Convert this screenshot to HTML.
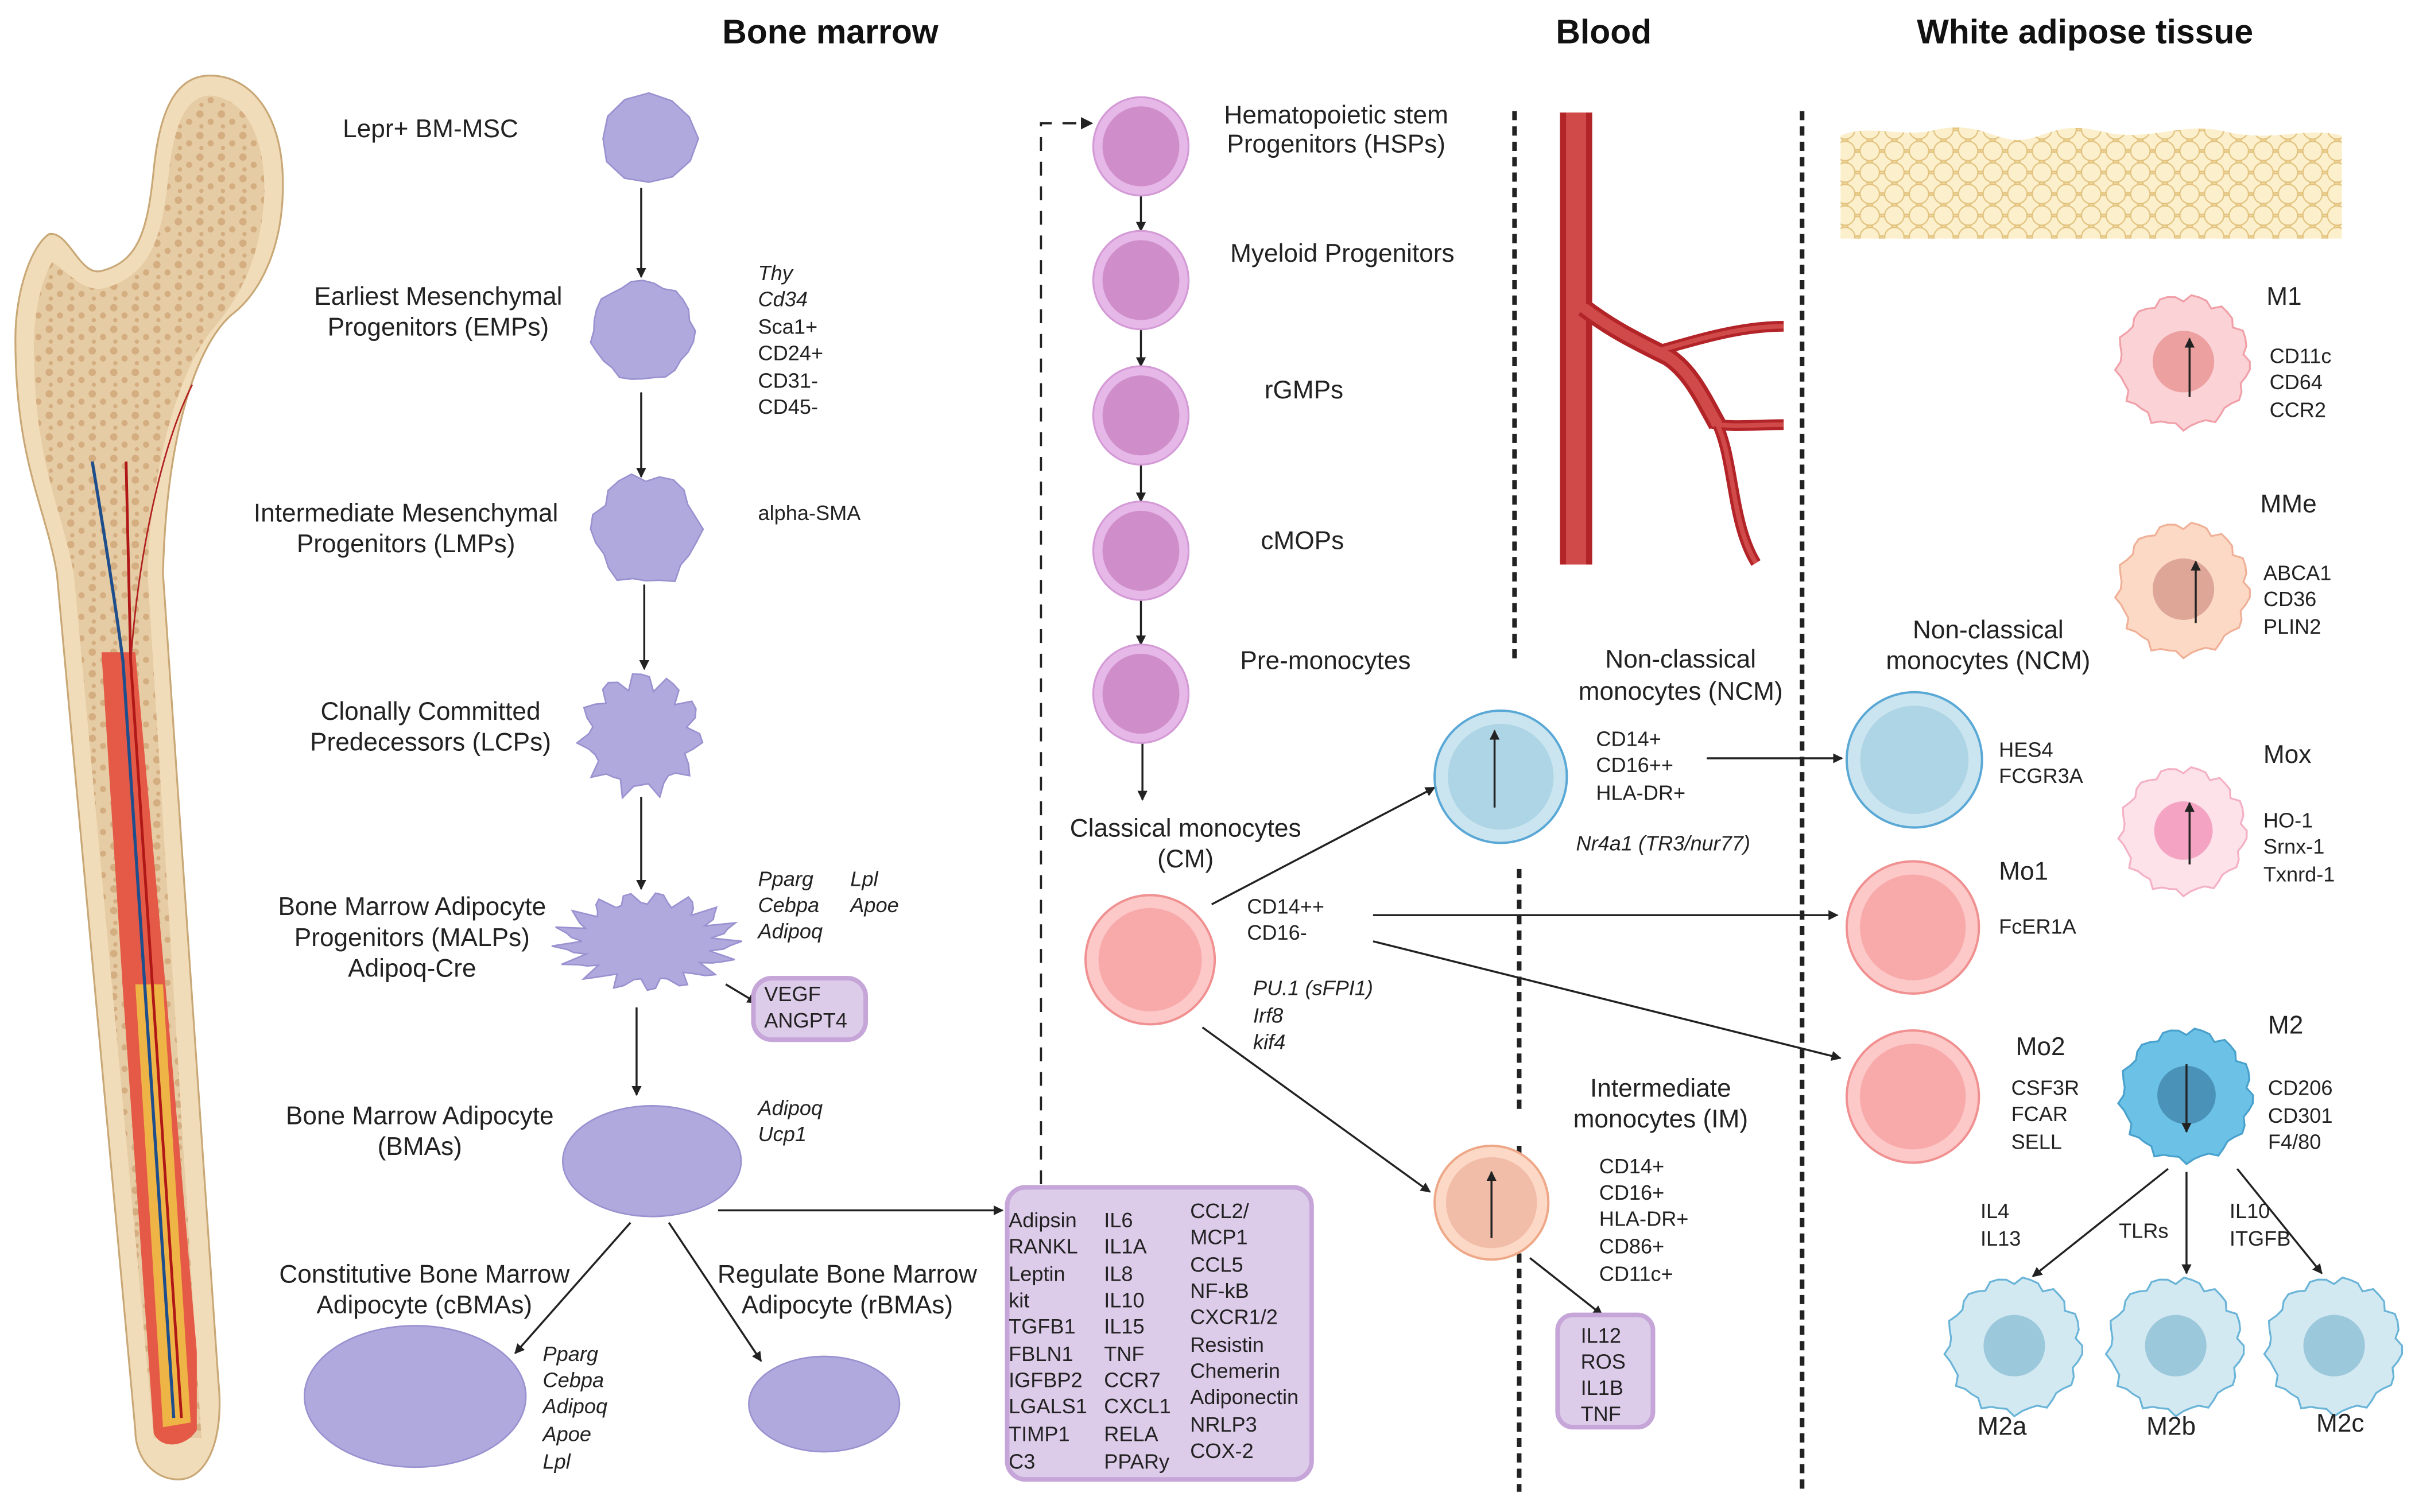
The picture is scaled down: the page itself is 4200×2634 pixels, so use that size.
<!DOCTYPE html>
<html><head><meta charset="utf-8">
<style>
html,body{margin:0;padding:0;background:#fff;}
svg{display:block;}
text{font-family:"Liberation Sans",sans-serif;fill:#222;}
.t{font-size:16.5px;}
.m{font-size:13.5px;}
.i{font-size:13.5px;font-style:italic;}
.h{font-size:22px;font-weight:bold;fill:#111;}
</style></head><body>
<svg id="s" width="4200" height="2634" viewBox="0 0 1568 983" xmlns="http://www.w3.org/2000/svg">
<defs>
<marker id="a" viewBox="0 0 10 10" refX="9" refY="5" markerWidth="5" markerHeight="5" orient="auto-start-reverse"><path d="M0,0L10,5L0,10z" fill="#222"/></marker>
<pattern id="fat" width="16" height="14" patternUnits="userSpaceOnUse"><rect width="16" height="14" fill="#efd69a"/><circle cx="8" cy="7" r="6.3" fill="#fbefcc" stroke="#e2c27e" stroke-width="0.8"/><circle cx="0" cy="0" r="6.3" fill="#fbefcc" stroke="#e2c27e" stroke-width="0.8"/><circle cx="16" cy="0" r="6.3" fill="#fbefcc" stroke="#e2c27e" stroke-width="0.8"/><circle cx="0" cy="14" r="6.3" fill="#fbefcc" stroke="#e2c27e" stroke-width="0.8"/><circle cx="16" cy="14" r="6.3" fill="#fbefcc" stroke="#e2c27e" stroke-width="0.8"/></pattern>
<pattern id="bone" width="14" height="14" patternUnits="userSpaceOnUse"><rect width="14" height="14" fill="#e6cca4"/><circle cx="4" cy="4" r="2.4" fill="#d4ad80"/><circle cx="11" cy="9" r="2" fill="#d4ad80"/><circle cx="5" cy="12" r="1.4" fill="#d4ad80"/></pattern>
</defs>

<text class="h" x="540" y="28" text-anchor="middle">Bone marrow</text>
<text class="h" x="1043" y="28" text-anchor="middle">Blood</text>
<text class="h" x="1356" y="28" text-anchor="middle">White adipose tissue</text>

<!-- Bone -->
<path d="M135,49 C160,48 184,70 184,120 C184,160 170,190 150,205 C125,228 108,290 106,373 L142,898 C146,935 135,962 116,962 C100,962 88,948 88,930 L37,373 C30,330 10,300 10,220 C10,190 20,160 32,152 C45,150 52,180 66,176 C90,170 96,150 100,110 C104,70 115,50 135,49Z" fill="#f1dcb9" stroke="#c9a877" stroke-width="1.2"/>
<path d="M137,62 C158,64 172,85 172,125 C170,165 158,190 140,212 C118,236 98,300 96,373 L131,935 L100,935 L48,373 C40,330 22,300 22,225 C22,200 28,180 34,170 C48,180 56,192 72,186 C100,176 106,150 110,110 C114,78 122,62 137,62Z" fill="url(#bone)"/>
<path d="M66,424 L88,424 L108,645 L128,879 L128,930 C120,942 104,942 100,932 L80,645Z" fill="#e45a46"/>
<path d="M88,640 L106,640 L124,925 L106,928Z" fill="#eeb445"/>
<path d="M60,300 C70,360 76,400 80,430 L113,922" stroke="#1f4e8c" stroke-width="2" fill="none"/>
<path d="M82,300 L85,430 L118,922" stroke="#b01818" stroke-width="1.8" fill="none"/>
<path d="M85,430 C90,360 105,290 125,250" stroke="#b02020" stroke-width="1" fill="none"/>

<g id="c1"></g>
<g fill="none" stroke="#222" stroke-width="1.3" marker-end="url(#a)">
<line x1="417" y1="122" x2="417" y2="180"/>
<line x1="417" y1="255" x2="417" y2="310"/>
<line x1="419" y1="380" x2="419" y2="435"/>
<line x1="417" y1="518" x2="417" y2="578"/>
<line x1="472" y1="640" x2="492" y2="652"/>
<line x1="414" y1="655" x2="414" y2="712"/>
<line x1="410" y1="795" x2="335" y2="880"/>
<line x1="435" y1="795" x2="495" y2="885"/>
<line x1="467" y1="787" x2="652" y2="787"/>
<line x1="742" y1="127" x2="742" y2="150"/>
<line x1="742" y1="214" x2="742" y2="238"/>
<line x1="742" y1="302" x2="742" y2="326"/>
<line x1="742" y1="390" x2="742" y2="419"/>
<line x1="743" y1="483" x2="743" y2="520"/>
<line x1="788" y1="588" x2="933" y2="512"/>
<line x1="1110" y1="493" x2="1198" y2="493"/>
<line x1="893" y1="595" x2="1195" y2="595"/>
<line x1="893" y1="612" x2="1197" y2="688"/>
<line x1="782" y1="668" x2="930" y2="775"/>
<line x1="995" y1="818" x2="1042" y2="855"/>
<line x1="1410" y1="760" x2="1322" y2="830"/>
<line x1="1422" y1="762" x2="1422" y2="828"/>
<line x1="1455" y1="760" x2="1510" y2="828"/>
</g>

<text class="t" x="280" y="89" text-anchor="middle">Lepr+ BM-MSC</text>
<text class="t" x="285" y="198" text-anchor="middle">Earliest Mesenchymal</text>
<text class="t" x="285" y="218" text-anchor="middle">Progenitors (EMPs)</text>
<text class="t" x="264" y="339" text-anchor="middle">Intermediate Mesenchymal</text>
<text class="t" x="264" y="359" text-anchor="middle">Progenitors (LMPs)</text>
<text class="t" x="280" y="468" text-anchor="middle">Clonally Committed</text>
<text class="t" x="280" y="488" text-anchor="middle">Predecessors (LCPs)</text>
<text class="t" x="268" y="595" text-anchor="middle">Bone Marrow Adipocyte</text>
<text class="t" x="268" y="615" text-anchor="middle">Progenitors (MALPs)</text>
<text class="t" x="268" y="635" text-anchor="middle">Adipoq-Cre</text>
<text class="t" x="273" y="731" text-anchor="middle">Bone Marrow Adipocyte</text>
<text class="t" x="273" y="751" text-anchor="middle">(BMAs)</text>
<text class="t" x="276" y="834" text-anchor="middle">Constitutive Bone Marrow</text>
<text class="t" x="276" y="854" text-anchor="middle">Adipocyte (cBMAs)</text>
<text class="t" x="551" y="834" text-anchor="middle">Regulate Bone Marrow</text>
<text class="t" x="551" y="854" text-anchor="middle">Adipocyte (rBMAs)</text>

<text class="i" x="493" y="182">Thy</text>
<text class="i" x="493" y="199">Cd34</text>
<text class="m" x="493" y="217">Sca1+</text>
<text class="m" x="493" y="234">CD24+</text>
<text class="m" x="493" y="252">CD31-</text>
<text class="m" x="493" y="269">CD45-</text>
<text class="m" x="493" y="338">alpha-SMA</text>
<text class="i" x="493" y="576">Pparg</text>
<text class="i" x="493" y="593">Cebpa</text>
<text class="i" x="493" y="610">Adipoq</text>
<text class="i" x="553" y="576">Lpl</text>
<text class="i" x="553" y="593">Apoe</text>
<text class="i" x="493" y="725">Adipoq</text>
<text class="i" x="493" y="742">Ucp1</text>
<text class="i" x="353" y="885">Pparg</text>
<text class="i" x="353" y="902">Cebpa</text>
<text class="i" x="353" y="919">Adipoq</text>
<text class="i" x="353" y="937">Apoe</text>
<text class="i" x="353" y="955">Lpl</text>

<rect x="490" y="636" width="73" height="40" rx="12" fill="#ddcbea" stroke="#c6a6d8" stroke-width="3"/>
<text class="m" x="497" y="651">VEGF</text>
<text class="m" x="497" y="668">ANGPT4</text>

<rect x="655" y="772" width="198" height="190" rx="12" fill="#ddcbea" stroke="#c6a6d8" stroke-width="3"/>
<text class="m" x="656" y="798">Adipsin</text><text class="m" x="656" y="815">RANKL</text><text class="m" x="656" y="833">Leptin</text><text class="m" x="656" y="850">kit</text><text class="m" x="656" y="867">TGFB1</text><text class="m" x="656" y="885">FBLN1</text><text class="m" x="656" y="902">IGFBP2</text><text class="m" x="656" y="919">LGALS1</text><text class="m" x="656" y="937">TIMP1</text><text class="m" x="656" y="955">C3</text>
<text class="m" x="718" y="798">IL6</text><text class="m" x="718" y="815">IL1A</text><text class="m" x="718" y="833">IL8</text><text class="m" x="718" y="850">IL10</text><text class="m" x="718" y="867">IL15</text><text class="m" x="718" y="885">TNF</text><text class="m" x="718" y="902">CCR7</text><text class="m" x="718" y="919">CXCL1</text><text class="m" x="718" y="937">RELA</text><text class="m" x="718" y="955">PPARy</text>
<text class="m" x="774" y="792">CCL2/</text><text class="m" x="774" y="809">MCP1</text><text class="m" x="774" y="827">CCL5</text><text class="m" x="774" y="844">NF-kB</text><text class="m" x="774" y="861">CXCR1/2</text><text class="m" x="774" y="879">Resistin</text><text class="m" x="774" y="896">Chemerin</text><text class="m" x="774" y="913">Adiponectin</text><text class="m" x="774" y="931">NRLP3</text><text class="m" x="774" y="948">COX-2</text>

<path d="M677,770 L677,80 L705,80" fill="none" stroke="#222" stroke-width="1.4" stroke-dasharray="9,7"/>
<path d="M703,76 L711,80 L703,84z" fill="#222"/>

<g id="hsc"></g>
<text class="t" x="869" y="80" text-anchor="middle">Hematopoietic stem</text>
<text class="t" x="869" y="99" text-anchor="middle">Progenitors (HSPs)</text>
<text class="t" x="873" y="170" text-anchor="middle">Myeloid Progenitors</text>
<text class="t" x="848" y="259" text-anchor="middle">rGMPs</text>
<text class="t" x="847" y="357" text-anchor="middle">cMOPs</text>
<text class="t" x="862" y="435" text-anchor="middle">Pre-monocytes</text>
<text class="t" x="771" y="544" text-anchor="middle">Classical monocytes</text>
<text class="t" x="771" y="564" text-anchor="middle">(CM)</text>
<text class="m" x="811" y="594">CD14++</text>
<text class="m" x="811" y="611">CD16-</text>
<text class="i" x="815" y="647">PU.1 (sFPI1)</text>
<text class="i" x="815" y="665">Irf8</text>
<text class="i" x="815" y="682">kif4</text>

<g stroke="#222" stroke-width="3" stroke-dasharray="6,4">
<line x1="985" y1="72" x2="985" y2="432"/>
<line x1="988" y1="565" x2="988" y2="722"/>
<line x1="988" y1="745" x2="988" y2="970"/>
<line x1="1172" y1="72" x2="1172" y2="972"/>
</g>

<!-- blood vessel -->
<g fill="none" stroke-linecap="butt">
<path d="M1025,73 L1025,367" stroke="#b32428" stroke-width="21"/>
<path d="M1025,73 L1025,367" stroke="#d04a4a" stroke-width="13"/>
<path d="M1030,200 C1050,215 1065,222 1085,232 C1100,242 1108,260 1117,276" stroke="#b32428" stroke-width="12"/>
<path d="M1078,228 C1100,222 1130,212 1160,212" stroke="#b32428" stroke-width="7"/>
<path d="M1113,275 C1125,278 1140,276 1160,276" stroke="#b32428" stroke-width="7"/>
<path d="M1117,276 C1128,300 1126,340 1142,366" stroke="#b32428" stroke-width="7"/>
<path d="M1030,200 C1050,215 1065,222 1085,232 C1100,242 1108,260 1117,276" stroke="#d04a4a" stroke-width="7"/>
<path d="M1078,228 C1100,222 1130,212 1160,212" stroke="#d04a4a" stroke-width="3"/>
<path d="M1113,275 C1125,278 1140,276 1160,276" stroke="#d04a4a" stroke-width="3"/>
<path d="M1117,276 C1128,300 1126,340 1142,366" stroke="#d04a4a" stroke-width="3"/>
</g>

<text class="t" x="1093" y="434" text-anchor="middle">Non-classical</text>
<text class="t" x="1093" y="455" text-anchor="middle">monocytes (NCM)</text>
<text class="m" x="1038" y="485">CD14+</text>
<text class="m" x="1038" y="502">CD16++</text>
<text class="m" x="1038" y="520">HLA-DR+</text>
<text class="i" x="1025" y="553">Nr4a1 (TR3/nur77)</text>
<text class="t" x="1080" y="713" text-anchor="middle">Intermediate</text>
<text class="t" x="1080" y="733" text-anchor="middle">monocytes (IM)</text>
<text class="m" x="1040" y="763">CD14+</text>
<text class="m" x="1040" y="780">CD16+</text>
<text class="m" x="1040" y="797">HLA-DR+</text>
<text class="m" x="1040" y="815">CD86+</text>
<text class="m" x="1040" y="833">CD11c+</text>
<rect x="1013" y="855" width="62" height="73" rx="10" fill="#ddcbea" stroke="#c6a6d8" stroke-width="3"/>
<text class="m" x="1028" y="873">IL12</text>
<text class="m" x="1028" y="890">ROS</text>
<text class="m" x="1028" y="907">IL1B</text>
<text class="m" x="1028" y="924">TNF</text>

<path d="M1197,155 L1197,88 C1215,80 1240,90 1260,84 C1290,78 1300,95 1320,90 C1340,84 1345,80 1370,86 C1400,92 1420,78 1450,86 C1480,92 1500,82 1523,88 L1523,155Z" fill="url(#fat)"/>

<g id="mono"></g>

<text class="t" x="1293" y="415" text-anchor="middle">Non-classical</text>
<text class="t" x="1293" y="435" text-anchor="middle">monocytes (NCM)</text>
<text class="m" x="1300" y="492">HES4</text>
<text class="m" x="1300" y="509">FCGR3A</text>
<text class="t" x="1300" y="572">Mo1</text>
<text class="m" x="1300" y="607">FcER1A</text>
<text class="t" x="1311" y="686">Mo2</text>
<text class="m" x="1308" y="712">CSF3R</text>
<text class="m" x="1308" y="729">FCAR</text>
<text class="m" x="1308" y="747">SELL</text>
<text class="t" x="1474" y="198">M1</text>
<text class="m" x="1476" y="236">CD11c</text>
<text class="m" x="1476" y="253">CD64</text>
<text class="m" x="1476" y="271">CCR2</text>
<text class="t" x="1470" y="333">MMe</text>
<text class="m" x="1472" y="377">ABCA1</text>
<text class="m" x="1472" y="394">CD36</text>
<text class="m" x="1472" y="412">PLIN2</text>
<text class="t" x="1472" y="496">Mox</text>
<text class="m" x="1472" y="538">HO-1</text>
<text class="m" x="1472" y="555">Srnx-1</text>
<text class="m" x="1472" y="573">Txnrd-1</text>
<text class="t" x="1475" y="672">M2</text>
<text class="m" x="1475" y="712">CD206</text>
<text class="m" x="1475" y="730">CD301</text>
<text class="m" x="1475" y="747">F4/80</text>
<text class="m" x="1288" y="792">IL4</text>
<text class="m" x="1288" y="810">IL13</text>
<text class="m" x="1378" y="805">TLRs</text>
<text class="m" x="1450" y="792">IL10</text>
<text class="m" x="1450" y="810">ITGFB</text>
<text class="t" x="1302" y="933" text-anchor="middle">M2a</text>
<text class="t" x="1412" y="933" text-anchor="middle">M2b</text>
<text class="t" x="1522" y="931" text-anchor="middle">M2c</text>
<g id="arr" fill="none" stroke="#222" stroke-width="1.3" marker-end="url(#a)"></g>
</svg>
<script>
var NS="http://www.w3.org/2000/svg";
function el(p,t,a){var e=document.createElementNS(NS,t);for(var k in a)e.setAttribute(k,a[k]);p.appendChild(e);return e;}
function blob(cx,cy,rx,ry,n,amp,seed){var d="";for(var i=0;i<=n*4;i++){var t=i/(n*4)*Math.PI*2;var r=1+amp*Math.sin(t*n+seed)+amp*0.5*Math.sin(t*(n*2-1)+seed*2);var x=cx+rx*r*Math.cos(t),y=cy+ry*r*Math.sin(t);d+=(i?"L":"M")+x.toFixed(1)+","+y.toFixed(1);}return d+"Z";}
var c1=document.getElementById("c1");
var pf="#b0a9dd",ps="#9a92d0";
el(c1,"path",{d:blob(422,90,31,29,3,0.03,1),fill:pf,stroke:ps});
el(c1,"path",{d:blob(418,215,33,32,7,0.04,0.5),fill:pf,stroke:ps});
el(c1,"path",{d:blob(420,344,34,35,6,0.08,1.3),fill:pf,stroke:ps});
el(c1,"path",{d:blob(417,477,36,36,11,0.14,0.2),fill:pf,stroke:ps});
el(c1,"path",{d:blob(421,612,52,28,17,0.16,0.7),fill:pf,stroke:ps});
el(c1,"ellipse",{cx:424,cy:755,rx:58,ry:36,fill:pf,stroke:ps});
el(c1,"ellipse",{cx:270,cy:908,rx:72,ry:46,fill:pf,stroke:ps});
el(c1,"ellipse",{cx:536,cy:913,rx:49,ry:31,fill:pf,stroke:ps});
var h=document.getElementById("hsc");
[95,182,270,358,451].forEach(function(y){el(h,"ellipse",{cx:742,cy:y,rx:31,ry:32,fill:"#e6b8e8",stroke:"#d49ad6","stroke-width":1.2});el(h,"ellipse",{cx:742,cy:y,rx:25,ry:26,fill:"#cf8ec9"});});
var m=document.getElementById("mono");
function rc(cx,cy,r,o,s,i){el(m,"circle",{cx:cx,cy:cy,r:r,fill:o,stroke:s,"stroke-width":1.5});el(m,"circle",{cx:cx,cy:cy,r:r*0.8,fill:i});}
rc(748,624,42,"#fcc8c8","#f09090","#f8aaaa");
rc(976,505,43,"#cae5ef","#5aa8d6","#aed5e5");
rc(970,782,37,"#fcd8c6","#eea888","#f2bda8");
rc(1245,494,44,"#cae5ef","#5aa8d6","#aed5e5");
rc(1244,603,43,"#fcc8c8","#f09090","#f8aaaa");
rc(1244,713,43,"#fcc8c8","#f09090","#f8aaaa");
function sc(cx,cy,r,o,s,i,ir){el(m,"path",{d:blob(cx,cy,r,r,13,0.05,0.3),fill:o,stroke:s,"stroke-width":1.2});el(m,"circle",{cx:cx,cy:cy,r:ir,fill:i});}
sc(1420,235,42,"#fbd2d6","#f0a0a8","#eda0a0",20);
sc(1420,383,42,"#fcd9c4","#f0b098","#dea696",20);
sc(1420,540,40,"#fde2ea","#f4b0c4","#f4a4c2",19);
sc(1422,712,42,"#6cc2e6","#48a0cc","#4a92b8",19);
sc(1310,875,43,"#d2e9f2","#6ab4d8","#9cc8dc",20);
sc(1415,875,43,"#d2e9f2","#6ab4d8","#9cc8dc",20);
sc(1518,875,43,"#d2e9f2","#6ab4d8","#9cc8dc",20);
var ar=document.getElementById("arr");
[[972,525,972,475],[970,805,970,762],[1424,258,1424,220],[1428,405,1428,365],[1424,562,1424,522],[1422,692,1422,736]].forEach(function(a){el(ar,"line",{x1:a[0],y1:a[1],x2:a[2],y2:a[3]});});
</script>
</body></html>
